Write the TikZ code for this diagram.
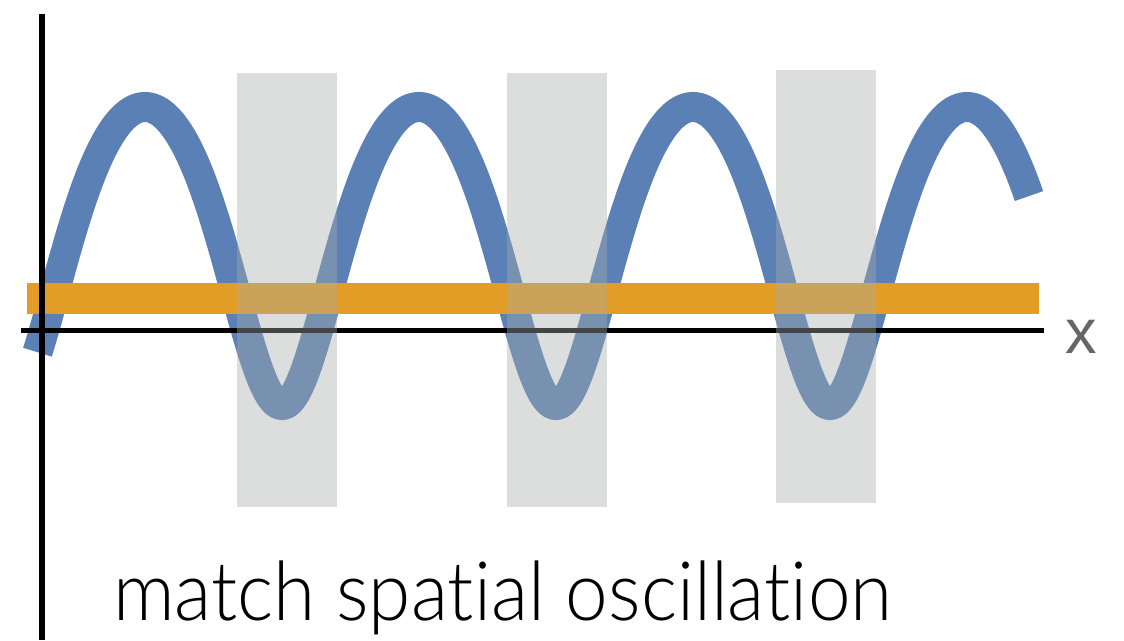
\documentclass[tikz,border=0pt]{standalone}
\usepackage{fontspec}
\newfontfamily\lblfont{Lato Light}
\newfontfamily\xfont{Liberation Sans}
\definecolor{wavec}{RGB}{91,128,181}
\definecolor{bandc}{RGB}{226,157,38}
\definecolor{shadec}{RGB}{168,171,170}
\definecolor{xgray}{RGB}{102,102,102}
\tikzset{
  wavestyle/.style={draw=wavec, line width=30pt},
  bandstyle/.style={draw=bandc, line width=30.5pt},
  axisstyle/.style={draw=black, line width=5pt},
  shadestyle/.style={fill=shadec, fill opacity=0.4},
}
\begin{document}
\begin{tikzpicture}[x=1pt,y=-1pt]
\useasboundingbox (0,0) rectangle (1124,640);
% wave
\draw[wavestyle] plot[domain=37.5:1029, samples=500, smooth]
  (\x, {256-149*(cos(1.313869*\x-190.511)+0.27)/(1+0.27*cos(1.313869*\x-190.511))});
% orange band
\coordinate (b1) at (26.7,298.7);
\coordinate (b2) at (1039,298.7);
\draw[bandstyle] (b1) -- (b2);
% axes
\coordinate (xa1) at (21,330);
\coordinate (xa2) at (1044,330);
\coordinate (ya1) at (42,14);
\coordinate (ya2) at (42,640);
\draw[axisstyle] (xa1) -- (xa2);
\draw[axisstyle, line width=5.4pt] (ya1) -- (ya2);
% shaded windows
\fill[shadestyle] (236.7,72.7) rectangle (336.7,506.7);
\fill[shadestyle] (506.7,72.7) rectangle (606.7,506.7);
\fill[shadestyle] (776,70) rectangle (876,503);
% labels
\node[text=xgray, font=\xfont\fontsize{63}{70}\selectfont, anchor=base, inner sep=0] (xl) at (1081.5,353) {x};
\node[font=\lblfont\fontsize{82}{90}\selectfont, anchor=base west, inner sep=0, xscale=0.933] (cap) at (113,620.5) {match spat\kern0pt ial oscillat\kern0pt ion};
\end{tikzpicture}
\end{document}
